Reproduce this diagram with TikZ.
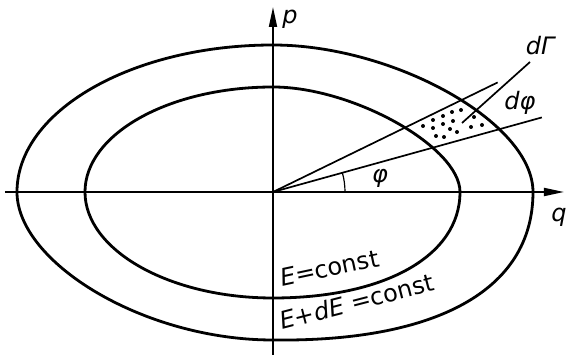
\documentclass[tikz,border=0pt]{standalone}
\usepackage{fontspec}
\setmainfont{DejaVu Sans}
\usetikzlibrary{arrows.meta}

\tikzset{
  axis/.style={line width=1.8pt, -{Triangle[length=20pt, width=8pt]}},
  level/.style={line width=2.8pt},
  ray/.style={line width=1.7pt},
  lbl/.style={font=\fontsize{24}{28}\selectfont, inner sep=0pt},
}

\begin{document}
\begin{tikzpicture}[x=1pt, y=1pt]
  \useasboundingbox (-273,-163) rectangle (293,192);

  \coordinate (O) at (0,0);
  \coordinate (Qs) at (-268,0);
  \coordinate (Qe) at (291,0);
  \coordinate (Ps) at (0,-163);
  \coordinate (Pe) at (0,185);
  \coordinate (R1) at (26:250);
  \coordinate (R2) at (15.5:279);
  \coordinate (L1) at (189,69);
  \coordinate (L2) at (257,130);

  % Axes
  \draw[axis] (Qs) -- (Qe);
  \draw[axis] (Ps) -- (Pe);

  % Energy surfaces
  \draw[level] (-256,0) .. controls (-256,81) and (-141,147) .. (0,147)
    .. controls (120,147) and (260,70) .. (260,0)
    .. controls (260,-100) and (160,-150) .. (0,-148)
    .. controls (-130,-148) and (-256,-70) .. cycle;
  \draw[level] (-188,0) .. controls (-188,58) and (-104,105) .. (0,105)
    .. controls (80,105) and (187,45) .. (187,0)
    .. controls (187,-65) and (110,-106) .. (0,-106)
    .. controls (-104,-106) and (-188,-58) .. cycle;

  % Rays
  \draw[ray] (O) -- (R1);
  \draw[ray] (O) -- (R2);
  \draw[line width=1.2pt] (O) ++(0:72) arc[start angle=0, end angle=15.5, radius=72];

  % Phase volume
  \foreach \p in {(150,66),(160,72),(170,76),(179,80),(188,82),(160,64),
      (170,68),(180,71),(198,65),(201,75),(209,67),(163,56),(171,55),
      (177,63),(184,60)}
    \fill \p circle (2pt);
  \draw[ray] (L1) -- (L2);

  \node[lbl] (p)    at (17,173)   {\textit{p}};
  \node[lbl] (q)    at (286,-25)  {\textit{q}};
  \node[lbl] (phi)  at (107,14)   {\textit{φ}};
  \node[lbl] (dG)   at (268,146)  {\textit{d}\textit{Γ}};
  \node[lbl] (dphi) at (247,89)   {\textit{dφ}};
  \node[lbl, anchor=base west, rotate=12] (E1) at (9,-95)  {\textit{E}=const};
  \node[lbl, anchor=base west, rotate=14.5] (E2) at (9,-138) {\textit{E}+\textit{dE} =const};

\end{tikzpicture}
\end{document}
